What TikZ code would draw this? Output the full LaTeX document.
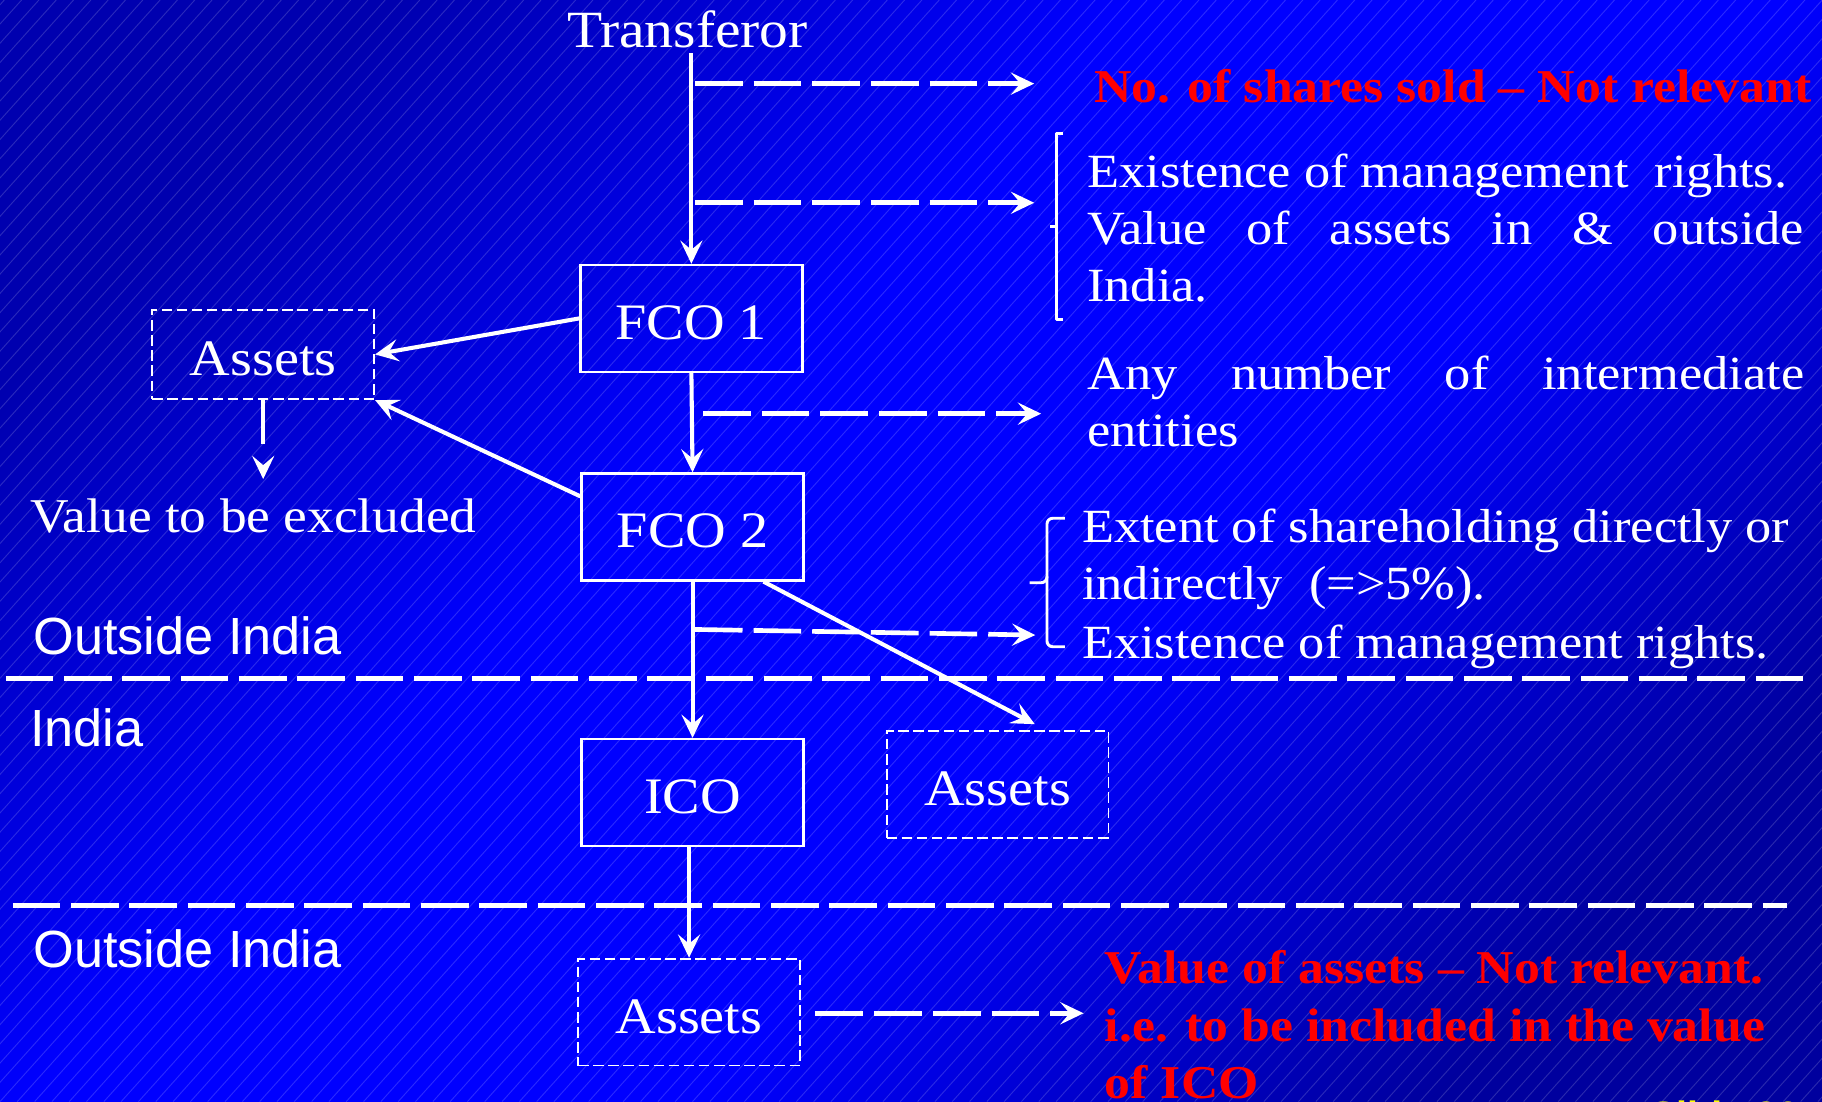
\documentclass[tikz,border=0pt]{standalone}
\usepackage{fontspec}
\setmainfont{Liberation Serif}[FakeStretch=1.1]
\setsansfont{Liberation Sans}
\usetikzlibrary{arrows.meta,calc}

\definecolor{bgdark}{RGB}{0,0,175}
\definecolor{bgmid}{RGB}{0,0,255}
\definecolor{bgdark2}{RGB}{0,0,158}
\definecolor{notered}{RGB}{255,0,0}
\definecolor{slideyellow}{RGB}{255,255,0}

% blue backdrop: dark corners, wide bright band in between
\pgfdeclareverticalshading{dgbackdrop}{100bp}{%
  color(0bp)=(bgdark2); color(24bp)=(bgdark2); color(42bp)=(bgmid);
  color(58bp)=(bgmid); color(76bp)=(bgdark); color(100bp)=(bgdark)}

\newcommand\dgBoxFont{\fontsize{44pt}{50pt}\selectfont}
\newcommand\dgTextFont{\fontsize{41pt}{49pt}\selectfont}
\newcommand\dgRedFont{\fontsize{40.5pt}{49pt}\selectfont\bfseries}
\newcommand\dgSansFont{\sffamily\fontsize{45pt}{50pt}\selectfont}

\tikzset{
  boxnode/.style={draw=white, line width=2pt, minimum width=191pt, minimum height=92pt,
    text=white, font=\dgBoxFont, text height=36pt, text depth=0pt, inner sep=0pt},
  assetbox/.style={boxnode, line width=1.6pt, dash pattern=on 9pt off 4pt},
  txt/.style={text=white, inner sep=0pt, anchor=base west, font=\dgTextFont},
  redtxt/.style={txt, text=notered, font=\dgRedFont},
  sidelabel/.style={text=white, inner sep=0pt, anchor=base west, font=\dgSansFont},
  solidarrow/.style={draw=white, line width=3.5pt, ->},
  dasharrow/.style={draw=white, line width=4pt, dash pattern=on 41pt off 9.5pt, ->},
  sepline/.style={draw=white, line width=4.3pt, dash pattern=on 41pt off 9.2pt},
  bracket/.style={draw=white, line width=2.5pt, line join=round},
  stripe/.style={draw=white, opacity=0.16, line width=0.8pt}
}

\begin{document}
\begin{tikzpicture}[x=1pt, y=-1pt, >={Stealth[length=20pt,width=19pt,inset=8pt]}]
  \useasboundingbox (0,0) rectangle (1568,948);
  \clip (0,0) rectangle (1568,948);

  % backdrop: diagonal blue gradient with fine hatching
  \shade[shading=dgbackdrop, shading angle=45] (0,0) rectangle (1568,948);
  \foreach \i in {-58,...,106}
    \draw[stripe] (\i*14.9,948) -- ++(853,-948);

  % region separators
  \draw[sepline] (5,584) -- (1558,584);
  \draw[sepline] (11,779.4) -- (1538,779.4);

  % entities
  \node[txt, anchor=base, font=\fontsize{45pt}{50pt}\selectfont] (tr) at (591.6,41) {Transferor};
  \node[boxnode] (f1) at (595,274) {FCO 1};
  \node[boxnode] (f2) at (596,453.5) {FCO 2};
  \node[boxnode] (ico) at (596,682) {ICO};
  \node[assetbox, minimum height=77pt] (aL) at (226.5,305) {Assets};
  \node[assetbox] (aR) at (858.5,675) {Assets};
  \node[assetbox] (aB) at (593,871) {Assets};

  % ownership chain
  \draw[solidarrow] ($(tr.south -| f1.north)+(0,4)$) -- (f1.north);
  \draw[solidarrow] (f1.south) -- (f2.north);
  \draw[solidarrow] (f2.south) -- (ico.north);
  \draw[solidarrow] (aB.north |- ico.south) -- (aB.north);
  \draw[solidarrow] (f1.west) -- (aL.east);
  \draw[solidarrow] ($(f2.north west)!0.22!(f2.south west)$) -- (aL.south east);
  \draw[solidarrow] ($(f2.south)+(61,0)$) -- ($(aR.north)+(32,-5)$);
  \draw[solidarrow, dash pattern=on 38pt off 30pt] (aL.south) -- ($(aL.south)+(0,68)$);

  % pointers to the notes
  \coordinate (b1s) at (598,72);    \coordinate (b1e) at (890,72);
  \coordinate (b2s) at (598,174.5); \coordinate (b2e) at (890,174.5);
  \coordinate (b3s) at (605,356);   \coordinate (b3e) at (896,356);
  \coordinate (b4s) at (598,541.7); \coordinate (b4e) at (891,546.5);
  \coordinate (b5e) at (932.5,872);
  \draw[dasharrow] (b1s) -- (b1e);
  \draw[dasharrow] (b2s) -- (b2e);
  \draw[dasharrow] (b3s) -- (b3e);
  \draw[dasharrow] (b4s) -- (b4e);
  \draw[dasharrow] ($(aB.east)+(12.5,1)$) -- (b5e);

  % brackets grouping the notes
  \draw[bracket] (915,114.5) -- (909,114.5) -- (909,275) -- (915,275);
  \draw[bracket] (909,194.6) -- (904,194.6);
  \draw[bracket, rounded corners=5pt] (916.5,446) -- (901,446) -- (901,501.5) -- (886,501.5);
  \draw[bracket, rounded corners=5pt] (901,496) -- (901,556.6) -- (916.5,556.6);

  % notes
  \node[redtxt] (n1) at (941.6,88.5) {No. of shares sold -- Not relevant};
  \node[txt] (n2a) at (935.5,161.4) {Existence of management\ \ rights.};
  \node[txt] (n2b) at (935.5,210.5) {\makebox[617pt][s]{Value of assets in \& outside}};
  \node[txt] (n2c) at (935.5,259.7) {India.};
  \node[txt] (n3a) at (935.5,335) {\makebox[617pt][s]{Any number of intermediate}};
  \node[txt] (n3b) at (935.5,384) {entities};
  \node[txt] (n4a) at (931,467) {Extent of shareholding directly or};
  \node[txt] (n4b) at (931,515.5) {indirectly\ \ (=>5\%).};
  \node[txt] (n4c) at (931,566.5) {Existence of management rights.};
  \node[redtxt] (n5a) at (950.7,846.5) {Value of assets -- Not relevant.};
  \node[redtxt] (n5b) at (950.7,896) {i.e. to be included in the value};
  \node[redtxt] (n5c) at (950.7,945) {of ICO};
  \node[txt, font=\fontsize{41.8pt}{49pt}\selectfont] (excl) at (25.7,458) {Value to be excluded};

  % region labels
  \node[sidelabel] (out1) at (28.6,563.3) {Outside India};
  \node[sidelabel] (ind) at (25.7,642.4) {India};
  \node[sidelabel] (out2) at (28.6,832.6) {Outside India};

  % slide number
  \node[inner sep=0pt, anchor=base west, text=slideyellow, font=\sffamily\bfseries\fontsize{34pt}{40pt}\selectfont] (sn) at (1420,972) {Slide 20};
\end{tikzpicture}
\end{document}
